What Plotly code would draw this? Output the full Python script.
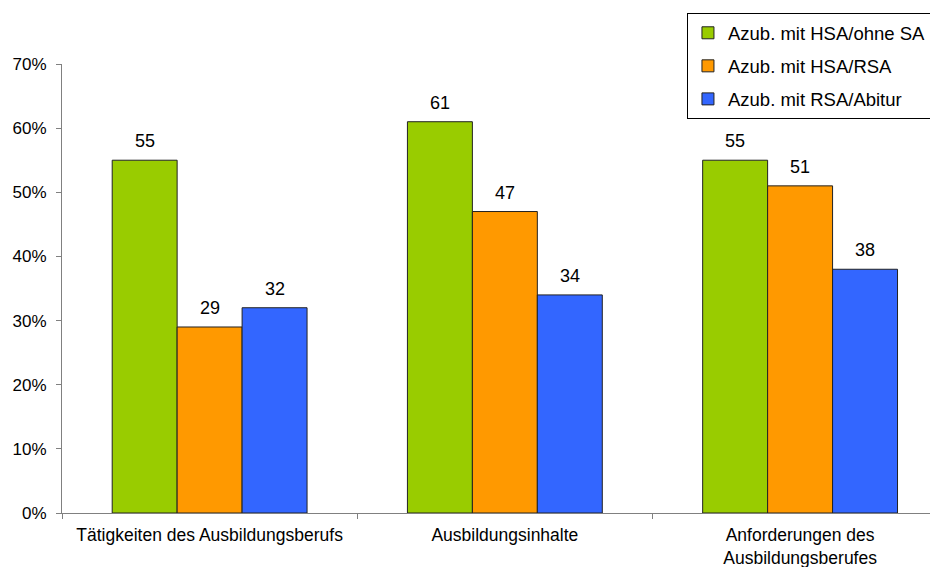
import plotly.graph_objects as go

categories = ["Tätigkeiten des Ausbildungsberufs", "Ausbildungsinhalte",
              "Anforderungen des<br>Ausbildungsberufes"]
series_names = ["Azub. mit HSA/ohne SA", "Azub. mit HSA/RSA", "Azub. mit RSA/Abitur"]
series_values = [
    [55, 61, 55],
    [29, 47, 51],
    [32, 34, 38],
]
series_colors = ["#99CC00", "#FF9900", "#3366FF"]
y_ticks = [0, 10, 20, 30, 40, 50, 60, 70]

font_family = "Liberation Sans, Arial, sans-serif"
bar_width = 0.22

fig = go.Figure()
for name, vals, color in zip(series_names, series_values, series_colors):
    fig.add_trace(go.Bar(
        x=categories, y=vals, name=name, legendgroup=name,
        marker=dict(color=color, line=dict(color="#222222", width=1)),
        width=bar_width,
    ))

# value labels above each bar
for j, vals in enumerate(series_values):
    for i, v in enumerate(vals):
        fig.add_annotation(
            x=i + (j - 1) * bar_width, y=v, text=str(v), showarrow=False,
            yanchor="bottom", yshift=7,
            font=dict(family=font_family, size=18, color="black"),
        )

fig.update_layout(
    width=930, height=567,
    margin=dict(l=62, r=0, t=64, b=54, autoexpand=False),
    paper_bgcolor="white", plot_bgcolor="white",
    barmode="group", bargap=0.34, bargroupgap=0,
    font=dict(family=font_family, size=17, color="black"),
    showlegend=True,
    legend=dict(
        x=0.72, y=1.113, xanchor="left", yanchor="top",
        bordercolor="black", borderwidth=1, bgcolor="white",
        font=dict(family=font_family, size=18.5, color="black"),
        traceorder="grouped", tracegroupgap=6,
    ),
    xaxis=dict(
        type="category", range=[-0.5, 2.44],
        showline=True, linecolor="#808080", linewidth=1,
        ticks="outside", tickson="boundaries", ticklen=5, tickcolor="#808080",
        showgrid=False, ticklabelstandoff=6,
        tickfont=dict(family=font_family, size=17.5),
    ),
    yaxis=dict(
        range=[0, 70], tickvals=y_ticks, ticktext=[f"{t}%" for t in y_ticks],
        showline=True, linecolor="#808080", linewidth=1,
        ticks="outside", ticklen=5, tickcolor="#808080",
        showgrid=False, zeroline=False, ticklabelstandoff=6,
        tickfont=dict(family=font_family, size=17),
    ),
)

fig.write_html("out.html")
